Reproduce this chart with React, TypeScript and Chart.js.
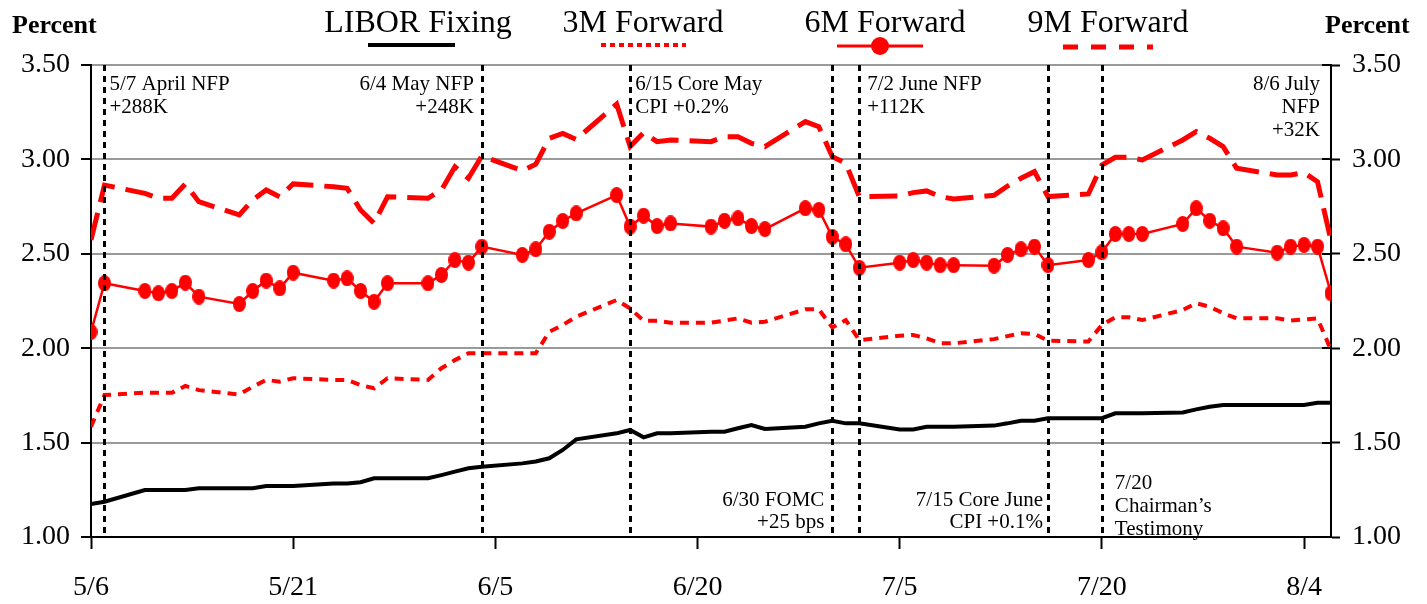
import React, { useEffect, useRef } from "react";
import { Chart, registerables } from "chart.js";
Chart.register(...registerables);

const dates = [
  "5/6", "5/7", "5/10", "5/11", "5/12", "5/13", "5/14", "5/17", "5/18", "5/19", "5/20", "5/21",
  "5/24", "5/25", "5/26", "5/27", "5/28", "5/31", "6/1", "6/2", "6/3", "6/4", "6/7", "6/8",
  "6/9", "6/10", "6/11", "6/14", "6/15", "6/16", "6/17", "6/18", "6/21", "6/22", "6/23", "6/24",
  "6/25", "6/28", "6/29", "6/30", "7/1", "7/2", "7/5", "7/6", "7/7", "7/8", "7/9", "7/12",
  "7/13", "7/14", "7/15", "7/16", "7/19", "7/20", "7/21", "7/22", "7/23", "7/26", "7/27", "7/28",
  "7/29", "7/30", "8/2", "8/3", "8/4", "8/5", "8/6",
];

const libor = [
  1.175, 1.187, 1.249, 1.249, 1.249, 1.249, 1.258, 1.258, 1.258, 1.27, 1.27, 1.27,
  1.284, 1.284, 1.29, 1.311, 1.311, 1.311, 1.328, 1.346, 1.364, 1.372, 1.39, 1.40,
  1.417, 1.461, 1.517, 1.549, 1.567, 1.528, 1.549, 1.549, 1.558, 1.558, 1.576, 1.593,
  1.572, 1.584, 1.602, 1.616, 1.602, 1.602, 1.57, 1.57, 1.584, 1.584, 1.584, 1.59,
  1.602, 1.616, 1.616, 1.629, 1.629, 1.629, 1.655, 1.655, 1.655, 1.66, 1.676, 1.69,
  1.699, 1.699, 1.699, 1.699, 1.699, 1.711, 1.711,
];

const fwd3m = [
  1.584, 1.752, 1.764, 1.764, 1.764, 1.80, 1.778, 1.755, 1.796, 1.832, 1.823, 1.841,
  1.832, 1.832, 1.805, 1.788, 1.841, 1.832, 1.894, 1.937, 1.973, 1.973, 1.973, 1.973,
  2.087, 2.123, 2.167, 2.255, 2.211, 2.146, 2.146, 2.135, 2.135, 2.146, 2.158, 2.135,
  2.14, 2.206, 2.206, 2.11, 2.149, 2.043, 2.066, 2.07, 2.052, 2.026, 2.026, 2.048,
  2.064, 2.079, 2.076, 2.04, 2.035, 2.123, 2.164, 2.164, 2.149, 2.202, 2.238, 2.22,
  2.185, 2.158, 2.158, 2.146, 2.152, 2.158, 1.99,
];

const fwd6m = [
  2.086, 2.344, 2.303, 2.291, 2.303, 2.347, 2.273, 2.234, 2.303, 2.358, 2.317, 2.40,
  2.358, 2.37, 2.303, 2.246, 2.344, 2.344, 2.388, 2.467, 2.453, 2.538, 2.494, 2.524,
  2.617, 2.674, 2.714, 2.811, 2.644, 2.702, 2.647, 2.661, 2.644, 2.675, 2.688, 2.647,
  2.631, 2.741, 2.732, 2.59, 2.55, 2.426, 2.453, 2.467, 2.453, 2.44, 2.44, 2.437,
  2.494, 2.524, 2.538, 2.44, 2.467, 2.508, 2.605, 2.605, 2.605, 2.658, 2.741, 2.675,
  2.635, 2.538, 2.506, 2.538, 2.547, 2.538, 2.291,
];

const fwd9m = [
  2.573, 2.864, 2.82, 2.794, 2.794, 2.87, 2.776, 2.706, 2.785, 2.838, 2.802, 2.87,
  2.855, 2.847, 2.732, 2.661, 2.802, 2.794, 2.838, 2.961, 2.90, 3.018, 2.94, 2.975,
  3.112, 3.138, 3.106, 3.293, 3.068, 3.142, 3.094, 3.103, 3.094, 3.12, 3.12, 3.085,
  3.068, 3.20, 3.173, 3.014, 2.979, 2.803, 2.806, 2.824, 2.833, 2.803, 2.79, 2.81,
  2.859, 2.90, 2.935, 2.803, 2.817, 2.97, 3.011, 3.011, 2.997, 3.103, 3.147, 3.112,
  3.068, 2.953, 2.918, 2.918, 2.93, 2.882, 2.57,
];

const xTickDates = ["5/6", "5/21", "6/5", "6/20", "7/5", "7/20", "8/4"];
const xEndDate = "8/6";
const eventDates = ["5/7", "6/4", "6/15", "6/30", "7/2", "7/16", "7/20"];
const legendLabels = ["LIBOR Fixing", "3M Forward", "6M Forward", "9M Forward"];
const axisTitle = "Percent";

const annotationDates = ["5/7", "6/4", "6/15", "7/2", "8/6", "6/30", "7/16", "7/20"];
const annotationTexts = [
  ["5/7 April NFP", "+288K"],
  ["6/4 May NFP", "+248K"],
  ["6/15 Core May", "CPI +0.2%"],
  ["7/2 June NFP", "+112K"],
  ["8/6 July", "NFP", "+32K"],
  ["6/30 FOMC", "+25 bps"],
  ["7/15 Core June", "CPI +0.1%"],
  ["7/20", "Chairman\u2019s", "Testimony"],
];

function dayOf(s: string): number {
  const [m, d] = s.split("/").map(Number);
  return Math.round((Date.UTC(2004, m - 1, d) - Date.UTC(2004, 4, 6)) / 864e5);
}

const SERIF = "'Liberation Serif', 'Times New Roman', serif";

function makeEllipse(w: number, h: number, color: string) {
  const c = document.createElement("canvas");
  c.width = w;
  c.height = h;
  const g = c.getContext("2d")!;
  g.fillStyle = color;
  g.beginPath();
  g.ellipse(w / 2, h / 2, w / 2, h / 2, 0, 0, Math.PI * 2);
  g.fill();
  return c;
}

export default function App() {
  const ref = useRef<HTMLCanvasElement | null>(null);

  useEffect(() => {
    document.body.style.margin = "0";
    const canvas = ref.current!;
    const xs = dates.map(dayOf);
    const pts = (arr: number[]) => arr.map((v, i) => ({ x: xs[i], y: v }));
    const RED = "#ff0000";
    const marker = makeEllipse(13, 16, RED);

    const annLayout: { dx: number; align: CanvasTextAlign; base: number[] }[] = [
      { dx: 5, align: "left", base: [90, 113] },
      { dx: -8, align: "right", base: [90, 113] },
      { dx: 5, align: "left", base: [90, 113] },
      { dx: 8, align: "left", base: [90, 113] },
      { dx: -11, align: "right", base: [90, 113, 136] },
      { dx: -8, align: "right", base: [506, 528] },
      { dx: -5, align: "right", base: [506, 528] },
      { dx: 13, align: "left", base: [489, 512, 535] },
    ];

    const overlay = {
      id: "overlay",
      afterDatasetsDraw(chart: any) {
        const { ctx, chartArea } = chart;
        const x = chart.scales.x;
        const y2 = chart.scales.y2;
        ctx.save();
        ctx.strokeStyle = "#000";
        ctx.lineWidth = 3;
        ctx.setLineDash([6, 5]);
        eventDates.forEach((d) => {
          const px = Math.round(x.getPixelForValue(dayOf(d))) + 0.5;
          ctx.beginPath();
          ctx.moveTo(px, chartArea.top);
          ctx.lineTo(px, chartArea.bottom);
          ctx.stroke();
        });
        ctx.setLineDash([]);
        ctx.lineWidth = 2;
        y2.ticks.forEach((t: any) => {
          const py = Math.round(y2.getPixelForValue(t.value));
          ctx.beginPath();
          ctx.moveTo(chartArea.right - 9, py);
          ctx.lineTo(chartArea.right, py);
          ctx.stroke();
        });
        ctx.fillStyle = "#000";
        ctx.font = `21px ${SERIF}`;
        ctx.textBaseline = "alphabetic";
        annotationTexts.forEach((lines, i) => {
          const L = annLayout[i];
          const px = x.getPixelForValue(dayOf(annotationDates[i])) + L.dx;
          ctx.textAlign = L.align;
          lines.forEach((s, j) => ctx.fillText(s, px, L.base[j]));
        });
        ctx.restore();
      },
      afterDraw(chart: any) {
        const { ctx } = chart;
        ctx.save();
        ctx.fillStyle = "#000";
        ctx.textBaseline = "alphabetic";
        ctx.font = `bold 26px ${SERIF}`;
        ctx.textAlign = "left";
        ctx.fillText(axisTitle, 12, 33);
        ctx.fillText(axisTitle, 1325, 33);

        ctx.font = `32px ${SERIF}`;
        ctx.textAlign = "center";
        const centers = [418, 643, 885, 1108];
        legendLabels.forEach((s, i) => ctx.fillText(s, centers[i], 32));

        ctx.lineCap = "butt";
        ctx.strokeStyle = "#000";
        ctx.lineWidth = 4;
        ctx.beginPath();
        ctx.moveTo(368, 45);
        ctx.lineTo(455, 45);
        ctx.stroke();

        ctx.strokeStyle = RED;
        ctx.setLineDash([5, 4]);
        ctx.beginPath();
        ctx.moveTo(601, 45);
        ctx.lineTo(686, 45);
        ctx.stroke();

        ctx.setLineDash([]);
        ctx.lineWidth = 3;
        ctx.beginPath();
        ctx.moveTo(837, 46);
        ctx.lineTo(923, 46);
        ctx.stroke();
        ctx.fillStyle = RED;
        ctx.beginPath();
        ctx.arc(880, 46, 9, 0, Math.PI * 2);
        ctx.fill();

        ctx.lineWidth = 5;
        ctx.setLineDash([15, 13]);
        ctx.beginPath();
        ctx.moveTo(1063, 47);
        ctx.lineTo(1153, 47);
        ctx.stroke();
        ctx.restore();
      },
    };

    const tickFont = { family: SERIF, size: 28 };
    const xTickVals = xTickDates.map(dayOf);

    const chart = new Chart(canvas, {
      type: "line",
      data: {
        datasets: [
          {
            label: legendLabels[0],
            data: pts(libor),
            borderColor: "#000",
            borderWidth: 4,
            pointRadius: 0,
            tension: 0,
          },
          {
            label: legendLabels[1],
            data: pts(fwd3m),
            borderColor: RED,
            borderWidth: 4,
            borderDash: [9, 7],
            pointRadius: 0,
            tension: 0,
          },
          {
            label: legendLabels[2],
            data: pts(fwd6m),
            borderColor: RED,
            borderWidth: 2.5,
            pointStyle: marker as any,
            pointRadius: 7,
            tension: 0,
          },
          {
            label: legendLabels[3],
            data: pts(fwd9m),
            borderColor: RED,
            borderWidth: 5,
            borderDash: [28, 11],
            pointRadius: 0,
            tension: 0,
          },
        ],
      },
      options: {
        animation: false,
        responsive: false,
        devicePixelRatio: 1,
        layout: { padding: { top: 65, left: 0, right: 0, bottom: 0 } },
        plugins: { legend: { display: false }, tooltip: { enabled: false } },
        scales: {
          x: {
            type: "linear",
            min: 0,
            max: dayOf(xEndDate),
            afterBuildTicks: (s: any) => {
              s.ticks = xTickVals.map((v) => ({ value: v }));
            },
            afterFit: (s: any) => {
              s.height = 67;
            },
            ticks: {
              font: tickFont,
              color: "#000",
              padding: 22,
              maxRotation: 0,
              autoSkip: false,
              callback: (v: any) => {
                const i = xTickVals.indexOf(Number(v));
                return i >= 0 ? xTickDates[i] : "";
              },
            },
            grid: {
              drawOnChartArea: false,
              tickLength: 12,
              tickColor: "#000",
              tickWidth: 2,
            },
            border: { color: "#000", width: 2 },
          },
          y: {
            position: "left",
            min: 1,
            max: 3.5,
            afterFit: (s: any) => {
              s.width = 91;
            },
            ticks: {
              stepSize: 0.5,
              font: tickFont,
              color: "#000",
              padding: 11,
              callback: (v: any) => Number(v).toFixed(2),
            },
            grid: {
              color: (c: any) => (c.tick && c.tick.value === 1 ? "rgba(0,0,0,0)" : "#9a9a9a"),
              lineWidth: 2,
              tickLength: 10,
              tickColor: "#000",
              tickWidth: 2,
            },
            border: { color: "#000", width: 2 },
          },
          y2: {
            position: "right",
            min: 1,
            max: 3.5,
            afterFit: (s: any) => {
              s.width = 96;
            },
            ticks: {
              stepSize: 0.5,
              font: tickFont,
              color: "#000",
              padding: 12,
              callback: (v: any) => Number(v).toFixed(2),
            },
            grid: {
              drawOnChartArea: false,
              tickLength: 9,
              tickColor: "#000",
              tickWidth: 2,
            },
            border: { color: "#000", width: 2 },
          },
        },
      },
      plugins: [overlay],
    } as any);

    return () => chart.destroy();
  }, []);

  return (
    <canvas
      ref={ref}
      width={1427}
      height={604}
      style={{ display: "block", width: 1427, height: 604 }}
    />
  );
}
